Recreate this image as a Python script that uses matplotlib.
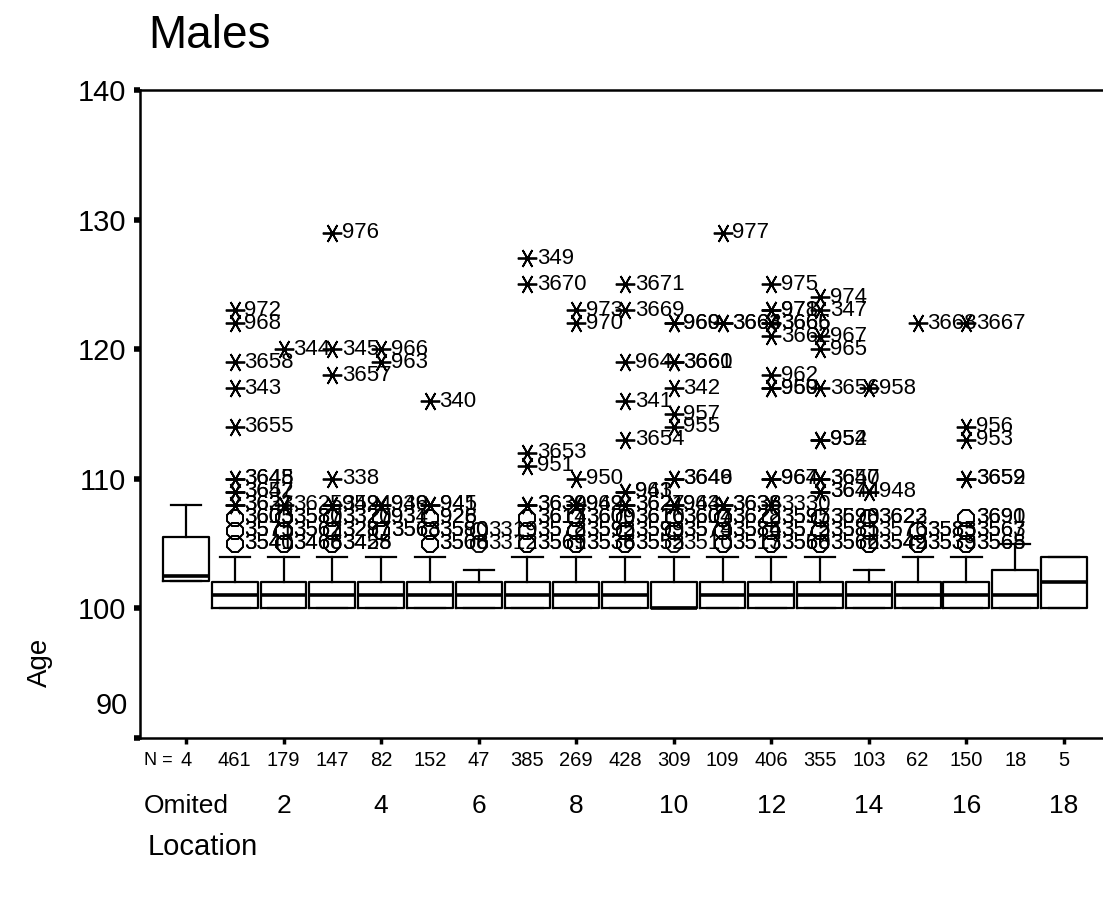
import matplotlib
matplotlib.use("Agg")
import matplotlib.pyplot as plt
import matplotlib.transforms as mtransforms
from matplotlib import font_manager

plt.rcParams['font.family'] = ['Liberation Sans', 'DejaVu Sans']

# ── Data ───────────────────────────────────────────────────────
GROUPS = ["Omited", "1", "2", "3", "4", "5", "6", "7", "8", "9", "10",
          "11", "12", "13", "14", "15", "16", "17", "18"]
N_COUNTS = [4, 461, 179, 147, 82, 152, 47, 385, 269, 428, 309, 109, 406,
            355, 103, 62, 150, 18, 5]

Q1 = [102.1, 100, 100, 100, 100, 100, 100, 100, 100, 100, 100, 100, 100,
      100, 100, 100, 100, 100, 100]
MEDIAN = [102.5, 101, 101, 101, 101, 101, 101, 101, 101, 101, 100, 101, 101,
          101, 101, 101, 101, 101, 102]
Q3 = [105.5, 102, 102, 102, 102, 102, 102, 102, 102, 102, 102, 102, 102,
      102, 102, 102, 102, 103, 104]
WHISK_LO = [102.1, 100, 100, 100, 100, 100, 100, 100, 100, 100, 100, 100, 100,
            100, 100, 100, 100, 100, 100]
WHISK_HI = [108, 104, 104, 104, 104, 104, 103, 104, 104, 104, 104, 104, 104,
            104, 103, 104, 104, 105, 104]

# outliers: group index, age, case id
OUT_GROUP = [
    1, 1, 1, 1, 1, 1, 1, 1, 1, 1, 1, 1, 1, 1, 1, 1, 1,
    2, 2, 2, 2, 2, 2, 2, 2,
    3, 3, 3, 3, 3, 3, 3, 3, 3, 3, 3, 3,
    4, 4, 4, 4, 4, 4, 4, 4,
    5, 5, 5, 5, 5, 5, 5, 5, 5,
    6, 6,
    7, 7, 7, 7, 7, 7, 7, 7, 7, 7, 7, 7,
    8, 8, 8, 8, 8, 8, 8, 8, 8, 8, 8,
    9, 9, 9, 9, 9, 9, 9, 9, 9, 9, 9, 9, 9, 9, 9,
    10, 10, 10, 10, 10, 10, 10, 10, 10, 10, 10, 10, 10, 10, 10, 10,
    11, 11, 11, 11, 11, 11, 11, 11, 11, 11, 11,
    12, 12, 12, 12, 12, 12, 12, 12, 12, 12, 12, 12, 12, 12, 12, 12, 12, 12,
    13, 13, 13, 13, 13, 13, 13, 13, 13, 13, 13, 13, 13, 13, 13, 13, 13,
    14, 14, 14, 14, 14, 14, 14,
    15, 15, 15, 15, 15,
    16, 16, 16, 16, 16, 16, 16, 16, 16, 16, 16,
]
OUT_AGE = [
    123, 122, 119, 117, 114, 110, 110, 109, 109, 108, 108, 107, 107, 106, 106, 105, 105,
    120, 108, 107, 107, 106, 106, 105, 105,
    129, 120, 118, 110, 108, 108, 107, 107, 106, 106, 105, 105,
    120, 119, 108, 108, 107, 107, 106, 106,
    116, 108, 108, 107, 107, 106, 106, 105, 105,
    106, 105,
    127, 125, 112, 111, 108, 108, 107, 107, 106, 106, 105, 105,
    123, 122, 110, 108, 108, 107, 107, 106, 106, 105, 105,
    125, 123, 119, 116, 113, 109, 109, 108, 108, 107, 107, 106, 106, 105, 105,
    122, 122, 119, 119, 117, 115, 114, 110, 110, 108, 108, 107, 107, 106, 106, 105,
    129, 122, 122, 108, 108, 107, 107, 106, 106, 105, 105,
    125, 123, 123, 122, 122, 121, 118, 117, 117, 110, 110, 108, 107, 107, 106, 106, 105, 105,
    124, 123, 121, 120, 117, 113, 113, 110, 110, 109, 109, 107, 107, 106, 106, 105, 105,
    117, 109, 107, 107, 106, 105, 105,
    122, 106, 106, 105, 105,
    122, 114, 113, 110, 110, 107, 107, 106, 106, 105, 105,
]
OUT_ID = [
    "972", "968", "3658", "343", "3655", "3648", "3645", "3652", "3647", "3631", "3623",
    "3605", "3603", "3571", "3575", "3541", "3540",
    "344", "3625", "3587", "3580", "3567", "3562", "3468", "3466",
    "976", "345", "3657", "338", "3594", "942", "3327", "3320", "3297", "3287", "3425", "3458",
    "966", "963", "946", "939", "934", "931", "3563", "3568",
    "340", "945", "941", "926", "928", "3590", "3580", "3508", "3566",
    "3319", "3312",
    "349", "3670", "3653", "951", "3639", "3630", "3617", "3614", "3578", "3572", "3561", "3569",
    "973", "970", "950", "962", "949", "3609", "3600", "3592", "3595", "3538", "3536",
    "3671", "3669", "964", "341", "3654", "961", "943", "3627", "3621", "3616", "3610",
    "3599", "3593", "3552", "3555",
    "969", "960", "3660", "3661", "342", "957", "955", "3646", "3649", "963", "944",
    "3604", "3607", "3574", "3579", "3510",
    "977", "3663", "3664", "3636", "3638", "3622", "3628", "3584", "3586", "3513", "3517",
    "975", "978", "971", "3666", "3665", "3662", "962", "960", "959", "964", "967",
    "3330", "3595", "3597", "3575", "3572", "3560", "3558",
    "974", "347", "967", "965", "3656", "952", "954", "3647", "3650", "3644", "3674",
    "3598", "3620", "3585", "3581", "3566", "3562",
    "958", "948", "3623", "3622", "3576", "3549", "3542",
    "3668", "3583", "3585", "3539", "3533",
    "3667", "956", "953", "3659", "3652", "3691", "3690", "3563", "3567", "3565", "3568",
]

EXTREME_FROM = 108
STAR = (6, 2, 90)


def pick_narrow():
    names = {f.name for f in font_manager.fontManager.ttflist}
    for n in ["Liberation Sans Narrow", "Arial Narrow"]:
        if n in names:
            return n
    return "Liberation Sans"


# ── Plot ───────────────────────────────────────────────────────
fig = plt.figure(figsize=(11.03, 9.13), dpi=100)
ax = fig.add_axes([140 / 1103, 1 - 738 / 913, 1 - 140 / 1103, 648 / 913])

stats = []
for i in range(len(GROUPS)):
    stats.append({"q1": Q1[i], "med": MEDIAN[i], "q3": Q3[i],
                  "whislo": WHISK_LO[i], "whishi": WHISK_HI[i], "fliers": []})

line = dict(color="black", linewidth=1.6)
ax.bxp(stats, positions=range(len(GROUPS)), widths=0.94, capwidths=0.62,
       showfliers=False, boxprops=line, whiskerprops=line, capprops=line,
       medianprops=dict(color="black", linewidth=2.6))

for g, age, cid in zip(OUT_GROUP, OUT_AGE, OUT_ID):
    if age >= EXTREME_FROM:
        ax.plot(g, age, marker=STAR, ms=14, mfc="none", mec="black", mew=1.3,
                linestyle="none", zorder=3)
    else:
        ax.plot(g, age, marker="8", ms=13, mfc="none", mec="black", mew=1.3,
                linestyle="none", zorder=3)
    ax.annotate(cid, (g, age), xytext=(7, 0), textcoords="offset points",
                ha="left", va="center", fontsize=16, zorder=4)

ax.set_xlim(-0.943, 18.8)
ax.set_ylim(90, 140)

# axes frame
for side in ["left", "bottom", "top"]:
    ax.spines[side].set_linewidth(1.8)
ax.spines["right"].set_visible(False)

# y axis
ax.set_yticks([90, 100, 110, 120, 130, 140])
ax.set_yticklabels(["", "100", "110", "120", "130", "140"], fontsize=21)
ax.tick_params(axis="y", direction="out", length=4, width=4, pad=6)
ax.annotate("90", xy=(0, 90), xycoords=("axes fraction", "data"),
            xytext=(-9, 23), textcoords="offset points",
            ha="right", va="center", fontsize=21)

# x axis
even = list(range(0, len(GROUPS), 2))
ax.set_xticks(even)
ax.set_xticklabels([GROUPS[i] for i in even], fontsize=19)
ax.tick_params(axis="x", direction="out", length=4, width=2.5, pad=36)

# N row
narrow = pick_narrow()
trans = mtransforms.blended_transform_factory(ax.transData, ax.transAxes)
ax.text(-0.574, -0.034, "N =", transform=trans, ha="center", va="center",
        fontsize=13, family=narrow)
for i, n in enumerate(N_COUNTS):
    ax.text(i, -0.034, str(n), transform=trans, ha="center", va="center",
            fontsize=14.5, family=narrow)

fig.text(148 / 1103, 1 - 36 / 913, "Males", fontsize=33, ha="left", va="center")
fig.text(40 / 1103, 1 - 662 / 913, "Age", fontsize=20, rotation=90,
         ha="center", va="center")
fig.text(148 / 1103, 1 - 847 / 913, "Location", fontsize=21, ha="left", va="center")

fig.savefig("out.png", dpi=100)
